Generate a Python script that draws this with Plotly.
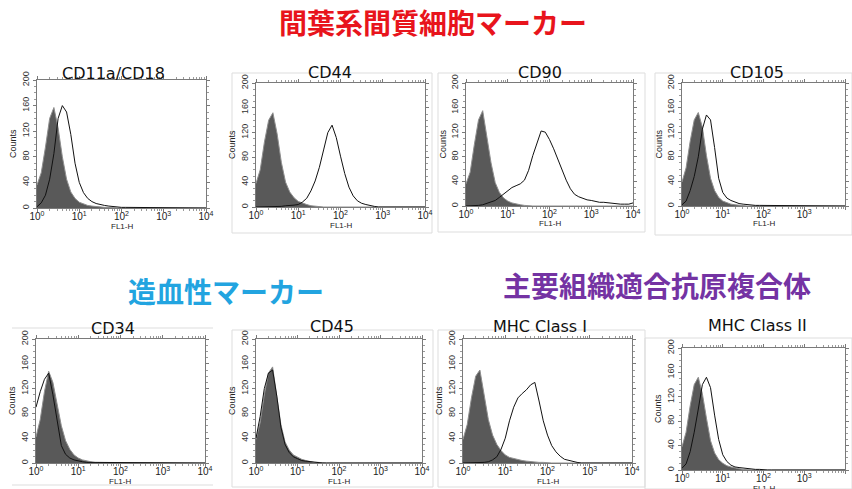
import plotly.graph_objects as go

W, H = 852, 489

# log10 channel positions (FL1-H decades)
LOG_BINS = [0.0, 0.1, 0.2, 0.3, 0.4, 0.5, 0.6, 0.7, 0.8, 0.9,
            1.0, 1.1, 1.2, 1.3, 1.4, 1.5, 1.6, 1.7, 1.8, 1.9,
            2.0, 2.1, 2.2, 2.3, 2.4, 2.5, 2.6, 2.7, 2.8, 2.9,
            3.0, 3.1, 3.2, 3.3, 3.4, 3.5, 3.6, 3.7, 3.8, 3.9, 4.0]
FL1 = [10 ** e for e in LOG_BINS]

PANELS = ["CD11a/CD18", "CD44", "CD90", "CD105",
          "CD34", "CD45", "MHC Class I", "MHC Class II"]

# isotype control (grey filled)
ISO_CD11A = [36, 55, 95, 140, 157, 125, 80, 45, 25, 15, 9, 6, 4, 3, 2, 1, 1, 1, 0, 0,
             0, 0, 0, 0, 0, 0, 0, 0, 0, 0, 0, 0, 0, 0, 0, 0, 0, 0, 0, 0, 0]
ISO_CD44 = [38, 60, 105, 140, 152, 118, 72, 40, 24, 15, 9, 6, 4, 2, 1, 1, 0, 0, 0, 0,
            0, 0, 0, 0, 0, 0, 0, 0, 0, 0, 0, 0, 0, 0, 0, 0, 0, 0, 0, 0, 0]
ISO_CD90 = [36, 55, 100, 140, 155, 115, 70, 38, 22, 13, 8, 5, 3, 2, 1, 0, 0, 0, 0, 0,
            0, 0, 0, 0, 0, 0, 0, 0, 0, 0, 0, 0, 0, 0, 0, 0, 0, 0, 0, 0, 0]
ISO_CD105 = [39, 62, 105, 140, 152, 128, 82, 45, 25, 14, 8, 5, 3, 2, 1, 0, 0, 0, 0, 0,
             0, 0, 0, 0, 0, 0, 0, 0, 0, 0, 0, 0, 0, 0, 0, 0, 0, 0, 0, 0, 0]
ISO_CD34 = [42, 70, 115, 148, 130, 95, 60, 36, 22, 13, 8, 5, 3, 2, 1, 1, 0, 0, 0, 0,
            0, 0, 0, 0, 0, 0, 0, 0, 0, 0, 0, 0, 0, 0, 0, 0, 0, 0, 0, 0, 0]
ISO_CD45 = [38, 65, 110, 145, 155, 112, 62, 34, 21, 13, 9, 6, 4, 2, 1, 1, 0, 0, 0, 0,
            0, 0, 0, 0, 0, 0, 0, 0, 0, 0, 0, 0, 0, 0, 0, 0, 0, 0, 0, 0, 0]
ISO_MHC1 = [38, 62, 105, 140, 150, 110, 70, 45, 30, 20, 13, 9, 7, 5, 4, 3, 2, 2, 1, 1,
            0, 0, 0, 0, 0, 0, 0, 0, 0, 0, 0, 0, 0, 0, 0, 0, 0, 0, 0, 0, 0]
ISO_MHC2 = [38, 62, 105, 140, 152, 125, 85, 48, 28, 17, 11, 7, 5, 3, 2, 1, 0, 0, 0, 0,
            0, 0, 0, 0, 0, 0, 0, 0, 0, 0, 0, 0, 0, 0, 0, 0, 0, 0, 0, 0, 0]

# stained sample (open line)
STN_CD11A = [2, 8, 20, 45, 85, 140, 160, 150, 115, 70, 40, 24, 15, 10, 7, 5, 4, 3, 2, 2,
             1, 1, 1, 0, 0, 0, 0, 0, 0, 0, 0, 0, 0, 0, 0, 0, 0, 0, 0, 0, 0]
STN_CD44 = [0, 0, 0, 0, 1, 1, 1, 2, 2, 3, 4, 8, 14, 26, 42, 64, 92, 120, 132, 112,
            82, 54, 32, 18, 10, 6, 4, 2, 1, 0, 0, 0, 0, 0, 0, 0, 0, 0, 0, 0, 0]
STN_CD90 = [0, 0, 1, 1, 2, 4, 6, 9, 14, 19, 25, 30, 33, 36, 42, 58, 82, 103, 122, 120,
            108, 93, 75, 58, 42, 28, 19, 15, 12, 10, 9, 7, 6, 6, 5, 4, 4, 3, 3, 3, 5]
STN_CD105 = [2, 8, 25, 48, 80, 125, 148, 140, 95, 45, 22, 13, 9, 6, 4, 3, 2, 2, 1, 1,
             1, 1, 0, 0, 0, 0, 0, 0, 0, 0, 0, 0, 0, 0, 0, 0, 0, 0, 0, 0, 0]
STN_CD34 = [90, 115, 135, 145, 110, 65, 28, 14, 8, 5, 3, 2, 1, 1, 0, 0, 0, 0, 0, 0,
            0, 0, 0, 0, 0, 0, 0, 0, 0, 0, 0, 0, 0, 0, 0, 0, 0, 0, 0, 0, 0]
STN_CD45 = [40, 75, 120, 145, 150, 108, 58, 30, 17, 10, 7, 4, 3, 2, 1, 0, 0, 0, 0, 0,
            0, 0, 0, 0, 0, 0, 0, 0, 0, 0, 0, 0, 0, 0, 0, 0, 0, 0, 0, 0, 0]
STN_MHC1 = [0, 0, 0, 0, 0, 1, 2, 5, 10, 22, 40, 68, 90, 105, 112, 118, 126, 130, 100, 68,
            45, 28, 18, 11, 6, 4, 2, 1, 0, 0, 0, 0, 0, 0, 0, 0, 0, 0, 0, 0, 0]
STN_MHC2 = [3, 10, 30, 62, 100, 140, 152, 135, 90, 50, 25, 14, 8, 5, 4, 3, 2, 2, 1, 1,
            0, 0, 0, 0, 0, 0, 0, 0, 0, 0, 0, 0, 0, 0, 0, 0, 0, 0, 0, 0, 0]

ISOTYPE = [ISO_CD11A, ISO_CD44, ISO_CD90, ISO_CD105, ISO_CD34, ISO_CD45, ISO_MHC1, ISO_MHC2]
STAINED = [STN_CD11A, STN_CD44, STN_CD90, STN_CD105, STN_CD34, STN_CD45, STN_MHC1, STN_MHC2]

Y_TICKS = [0, 40, 80, 120, 160, 200]
X_TICKS = [1, 10, 100, 1000, 10000]
X_TICK_TEXT = ["10<sup>0</sup>", "10<sup>1</sup>", "10<sup>2</sup>", "10<sup>3</sup>", "10<sup>4</sup>"]
X_MINOR = [k * 10 ** d for d in range(4) for k in range(2, 10)]

HEADINGS = ["<b>間葉系間質細胞マーカー</b>", "<b>造血性マーカー</b>", "<b>主要組織適合抗原複合体</b>"]
HEADING_COLORS = ["#e8141c", "#22a4e0", "#7433a3"]
HEADING_POS = [(433, 22), (226, 291), (657, 285)]

# plot areas in pixels: x0, x1, top, bottom
BOXES = [(37, 206, 80, 208), (256, 425, 83, 207), (466, 633, 83, 206), (682, 845, 83, 206),
         (36, 205, 339, 463), (256, 422, 339, 463), (463, 632, 339, 463), (682, 845, 348, 470)]
TITLE_POS = [(113, 73), (330, 72), (540, 72), (757, 72),
             (113, 328), (332, 326), (540, 326), (757, 325)]
FRAMES = [(232, 73, 432, 233), (438, 73, 645, 232), (655, 73, 852, 235),
          (232, 330, 433, 487), (438, 330, 645, 487), (645, 338, 852, 489)]


def px(x):
    return x / W


def py(y):
    return 1 - y / H


fig = go.Figure()
annotations = []
layout_axes = {}
for i in range(8):
    sfx = "" if i == 0 else str(i + 1)
    xa, ya = "x" + sfx, "y" + sfx
    fig.add_trace(go.Scatter(x=FL1, y=ISOTYPE[i], mode="lines", fill="tozeroy",
                             fillcolor="#595959", line=dict(color="#8e8e8e", width=1),
                             xaxis=xa, yaxis=ya, hoverinfo="skip", showlegend=False))
    fig.add_trace(go.Scatter(x=FL1, y=STAINED[i], mode="lines",
                             line=dict(color="#111111", width=1),
                             xaxis=xa, yaxis=ya, hoverinfo="skip", showlegend=False))
    x0, x1, top, bot = BOXES[i]
    layout_axes["xaxis" + sfx] = dict(
        domain=[px(x0), px(x1)], anchor=ya, type="log", range=[0, 4], automargin=False,
        tickvals=X_TICKS, ticktext=X_TICK_TEXT, showgrid=False, zeroline=False,
        showline=True, mirror="ticks", linecolor="#7a7a7a", linewidth=1,
        ticks="outside", ticklen=3, tickcolor="#7a7a7a", ticklabelstandoff=-4,
        minor=dict(tickvals=X_MINOR, ticks="outside", ticklen=2, tickcolor="#9a9a9a"),
        tickfont=dict(family="Liberation Sans", size=10, color="#222"),
    )
    layout_axes["yaxis" + sfx] = dict(
        domain=[py(bot), py(top)], anchor=xa, range=[0, 200], automargin=False,
        tickvals=Y_TICKS, tickangle=-90, showgrid=False, zeroline=False,
        showline=True, mirror="ticks", linecolor="#7a7a7a", linewidth=1,
        ticks="outside", ticklen=3, tickcolor="#7a7a7a",
        minor=dict(dtick=10, ticks="outside", ticklen=2, tickcolor="#9a9a9a"),
        tickfont=dict(family="Liberation Sans", size=9, color="#333"),
    )
    tx, ty = TITLE_POS[i]
    annotations.append(dict(text=PANELS[i], x=px(tx), y=py(ty), xref="paper", yref="paper",
                            showarrow=False, xanchor="center", yanchor="middle",
                            font=dict(family="DejaVu Sans", size=16, color="#111")))
    annotations.append(dict(text="Counts", x=px(x0 - 24), y=py((top + bot) / 2),
                            xref="paper", yref="paper", showarrow=False, textangle=-90,
                            xanchor="center", yanchor="middle",
                            font=dict(family="Liberation Sans", size=9, color="#222")))
    annotations.append(dict(text="FL1-H", x=px((x0 + x1) / 2), y=py(bot + 18),
                            xref="paper", yref="paper", showarrow=False,
                            xanchor="center", yanchor="middle",
                            font=dict(family="Liberation Sans", size=8, color="#222")))

for txt, col, (hx, hy) in zip(HEADINGS, HEADING_COLORS, HEADING_POS):
    annotations.append(dict(text=txt, x=px(hx), y=py(hy), xref="paper", yref="paper",
                            showarrow=False, xanchor="center", yanchor="middle",
                            font=dict(family="Noto Sans CJK JP", size=28, color=col)))

shapes = []
for (fx0, fy0, fx1, fy1) in FRAMES:
    shapes.append(dict(type="rect", xref="paper", yref="paper",
                       x0=px(fx0), x1=px(fx1), y0=py(fy1), y1=py(fy0),
                       line=dict(color="#dddddd", width=1), layer="below"))
for yy in (328, 485):
    shapes.append(dict(type="line", xref="paper", yref="paper",
                       x0=px(12), x1=px(213), y0=py(yy), y1=py(yy),
                       line=dict(color="#dddddd", width=1), layer="below"))

fig.update_layout(width=W, height=H, margin=dict(l=0, r=0, t=0, b=0),
                  paper_bgcolor="white", plot_bgcolor="white",
                  annotations=annotations, shapes=shapes, **layout_axes)

fig.write_html("out.html", config={"displayModeBar": False})

# remove the browser's default page margin so the figure sits at (0, 0)
with open("out.html", encoding="utf-8") as fh:
    html = fh.read()
html = html.replace("<body>", '<body style="margin:0;padding:0;overflow:hidden">', 1)
with open("out.html", "w", encoding="utf-8") as fh:
    fh.write(html)
